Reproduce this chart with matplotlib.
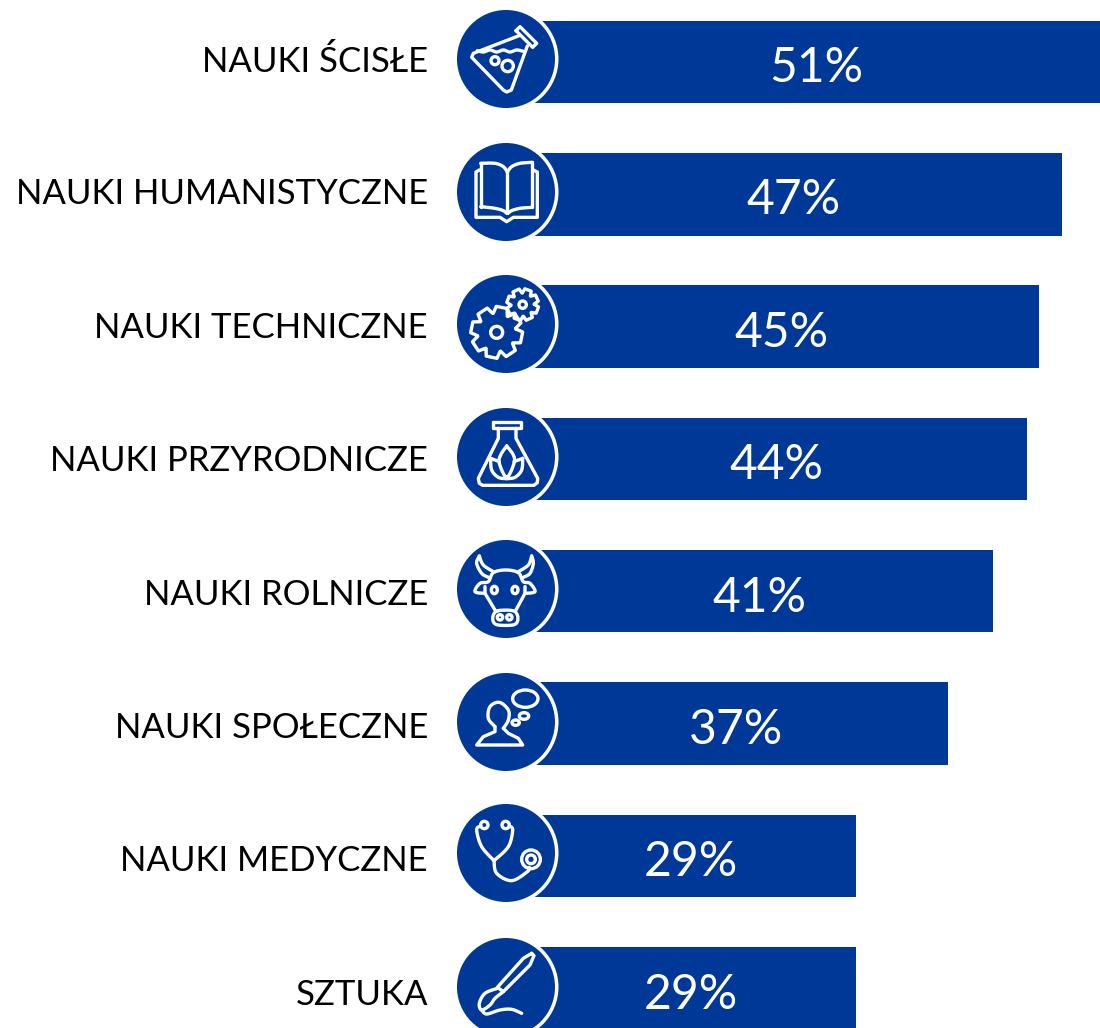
import numpy as np
import matplotlib
matplotlib.use('Agg')
import matplotlib.pyplot as plt
from matplotlib.patches import Circle, Ellipse

categories = ['NAUKI ŚCISŁE', 'NAUKI HUMANISTYCZNE', 'NAUKI TECHNICZNE', 'NAUKI PRZYRODNICZE',
              'NAUKI ROLNICZE', 'NAUKI SPOŁECZNE', 'NAUKI MEDYCZNE', 'SZTUKA']
values = [51, 47, 45, 44, 41, 37, 29, 29]

BLUE = '#003897'
plt.rcParams['font.family'] = ['Lato', 'DejaVu Sans']

fig = plt.figure(figsize=(11, 10.28), dpi=100)

# bars, x axis in percent: 0% sits behind the circles at about 525 px
ax = fig.add_axes([0, 0, 1, 1])
ax.set_xlim(-525 / 11.42, 575 / 11.42)
ax.set_ylim((1028 - 62) / 132.3, -62 / 132.3)
ax.axis('off')
pos = np.arange(len(values))
ax.barh(pos, values, height=0.624, color=BLUE)

for i, (cat, val) in enumerate(zip(categories, values)):
    ax.text((428 - 525) / 11.42, (61 + 133.4 * i - 62) / 132.3, cat, ha='right', va='center',
            fontsize=25, color='black')
    ax.text(val / 2, (68 + 132.4 * i - 62) / 132.3, f'{val}%', ha='center', va='center',
            fontsize=34.6, color='white')

# icons go on a second axes in picture pixels
ic = fig.add_axes([0, 0, 1, 1], facecolor='none')
ic.set_xlim(0, 1100)
ic.set_ylim(1028, 0)
ic.axis('off')

centres = [59, 192, 324, 457, 589, 722, 853, 987]
for cy in centres:
    ic.add_patch(Circle((506, cy), 52.5, fc='white', ec='none', zorder=2))
    ic.add_patch(Circle((506, cy), 49, fc=BLUE, ec='none', zorder=3))


def smooth(pts, closed=False, n=10):
    # catmull-rom through the given points
    p = np.array(pts, dtype=float)
    if closed:
        p = np.vstack([p[-1], p, p[0], p[1]])
    else:
        p = np.vstack([p[0], p, p[-1]])
    out = []
    for i in range(1, len(p) - 2):
        for t in np.linspace(0, 1, n, endpoint=False):
            out.append(0.5 * (2 * p[i] + (p[i + 1] - p[i - 1]) * t
                              + (2 * p[i - 1] - 5 * p[i] + 4 * p[i + 1] - p[i + 2]) * t ** 2
                              + (3 * p[i] - p[i - 1] - 3 * p[i + 1] + p[i + 2]) * t ** 3))
    out.append(p[-2])
    return np.array(out)


def line(pts, y0, curved=False, closed=False, lw=2.4):
    # points are in zoomed crop units: 3 per pixel, crop starts at x=440
    if curved:
        p = smooth(pts, closed)
    else:
        p = np.array(pts + [pts[0]] if closed else pts, dtype=float)
    ic.plot(440 + p[:, 0] / 3, y0 + p[:, 1] / 3, color='white', lw=lw, zorder=4,
            solid_joinstyle='round', solid_capstyle='round', clip_on=False)


def ring(x, y, r, y0, ry=None, lw=2.4):
    ic.add_patch(Ellipse((440 + x / 3, y0 + y / 3), 2 * r / 3, 2 * (ry or r) / 3, fc='none',
                         ec='white', lw=lw, zorder=4))


def gear(cx, cy, ro, ri, teeth, y0, rot=0.0):
    pts = []
    step = 2 * np.pi / teeth
    for k in range(teeth):
        a = rot + k * step
        for da, r in [(-0.3, ri), (-0.17, ro), (0.17, ro), (0.3, ri)]:
            pts.append((cx + r * np.cos(a + da * step * 1.6), cy + r * np.sin(a + da * step * 1.6)))
    line(pts, y0, closed=True)


# flask with bubbles
y0 = 0
line([(228, 92), (240, 80), (290, 130), (278, 142)], y0, closed=True)
line([(240, 106), (100, 160), (95, 172), (190, 270), (200, 276), (214, 270), (262, 138)], y0)
line([(112, 152), (130, 156), (150, 150), (170, 156), (190, 150), (210, 156), (230, 150), (250, 154)], y0, curved=True)
ring(165, 182, 12, y0)
ring(203, 198, 17, y0)

# book
y0 = 0
line([(118, 510), (108, 516), (108, 652), (180, 652), (200, 665), (220, 652), (292, 652), (292, 516), (280, 510)], y0)
line([(122, 490), (165, 490), (190, 500), (202, 516)], y0, curved=True)
line([(202, 516), (215, 500), (240, 490), (277, 487)], y0, curved=True)
line([(122, 490), (122, 620)], y0)
line([(277, 487), (277, 622)], y0)
line([(122, 620), (165, 625), (190, 632), (202, 640), (215, 632), (240, 625), (277, 622)], y0, curved=True)
line([(202, 516), (202, 640)], y0)

# gears
y0 = 260
gear(170, 217, 78, 58, 8, y0, rot=0.2)
ring(170, 217, 18, y0)
gear(248, 134, 48, 35, 8, y0, rot=0.35)
ring(248, 134, 11, y0)

# flask with leaves
y0 = 260
line([(160, 485), (242, 485), (242, 505), (160, 505)], y0, closed=True)
line([(175, 505), (175, 535), (115, 655), (118, 670), (128, 676), (282, 676), (292, 668), (293, 655), (228, 535), (228, 505)], y0)
line([(200, 558), (182, 585), (178, 610), (200, 652), (222, 610), (220, 585), (200, 558)], y0, curved=True)
line([(152, 595), (155, 630), (175, 652), (200, 656)], y0, curved=True)
line([(152, 595), (178, 605)], y0)
line([(248, 595), (245, 630), (225, 652), (200, 656)], y0, curved=True)
line([(248, 595), (222, 605)], y0)

# cow
y0 = 530
line([(118, 78), (110, 100), (125, 130), (145, 142)], y0, curved=True)
line([(118, 78), (130, 105), (160, 125)], y0, curved=True)
line([(275, 78), (280, 100), (270, 130), (250, 142)], y0, curved=True)
line([(275, 78), (265, 105), (235, 125)], y0, curved=True)
line([(135, 190), (105, 185), (120, 160), (145, 155), (160, 128), (197, 120), (235, 128), (250, 155), (270, 160), (285, 185), (255, 190)], y0, curved=True)
line([(135, 170), (135, 190), (165, 240)], y0)
line([(255, 170), (255, 190), (228, 240)], y0)
line([(175, 242), (160, 255), (160, 275), (175, 285), (218, 285), (232, 275), (232, 255), (218, 242)], y0, curved=True, closed=True)
ring(180, 262, 8, y0)
ring(208, 262, 8, y0)
ring(163, 180, 9, y0, ry=11)
ring(225, 180, 9, y0, ry=11)

# person thinking
y0 = 530
line([(165, 590), (145, 565), (150, 530), (178, 517), (205, 540), (205, 570), (190, 595)], y0, curved=True)
line([(165, 590), (165, 605), (130, 620), (110, 645), (248, 645), (235, 625), (205, 610), (190, 595)], y0)
ring(256, 506, 38, y0, ry=26)
ring(252, 558, 14, y0, ry=10)
ring(227, 578, 11, y0, ry=8)

# stethoscope
y0 = 790
ring(133, 105, 11, y0)
ring(197, 105, 11, y0)
line([(122, 108), (110, 120), (125, 170), (162, 212)], y0, curved=True)
line([(208, 108), (218, 120), (205, 170), (162, 212)], y0, curved=True)
line([(162, 212), (170, 250), (215, 272), (262, 245), (268, 232)], y0, curved=True)
ring(273, 208, 28, y0)
ring(273, 208, 13, y0)

# paint brush
y0 = 790
line([(275, 490), (282, 497), (270, 525), (190, 605), (172, 592), (250, 505)], y0, closed=True)
line([(172, 595), (135, 610), (118, 640), (125, 660), (150, 645), (165, 625), (190, 605)], y0, curved=True)
line([(125, 660), (140, 672), (180, 660), (215, 658), (245, 670)], y0, curved=True)

fig.savefig('out.png', dpi=100)
